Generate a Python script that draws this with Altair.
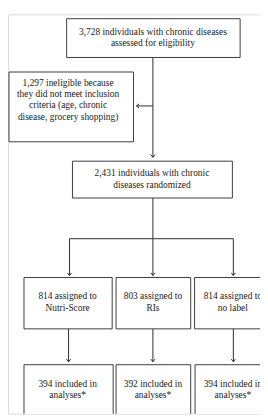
import altair as alt
import pandas as pd

# ---- content (text / counts) ----
top_text = ["3,728 individuals with chronic diseases", "assessed for eligibility"]
excl_text = ["1,297 ineligible because", "they did not meet inclusion",
             "criteria (age, chronic", "disease, grocery shopping)"]
rand_text = ["2,431 individuals with chronic", "diseases randomized"]
arm_labels = ["Nutri-Score", "RIs", "no label"]
arm_assigned = [814, 803, 814]
arm_analysed = [394, 392, 394]

# ---- layout (page pixel coordinates) ----
FONT = "'Liberation Serif', 'Times New Roman', Times, serif"
FS = 9.7
LH = 11.7

box_specs = [
    # x, x2, y, y2, text-center-x, first-line-y, lines
    (68, 247, 12, 52, 157.5, 26, top_text),
    (8.5, 137, 67, 139, 70, 78.5, excl_text),
    (74, 239, 159, 197, 156.5, 172, rand_text),
]
arm_x = [(24, 115, 69.5), (119, 196, 157.5), (200, 290, 240)]
for (x0, x1, cx), lab, n in zip(arm_x, arm_labels, arm_assigned):
    box_specs.append((x0, x1, 279, 332, cx, 299, [f"{n} assigned to", lab]))
arm_x2 = [(24, 116, 69.5), (119, 196, 157.5), (200.5, 290, 240)]
for (x0, x1, cx), n in zip(arm_x2, arm_analysed):
    box_specs.append((x0, x1, 369, 440, cx, 389, [f"{n} included in", "analyses*"]))

boxes = pd.DataFrame([dict(x=b[0] + .5, x2=b[1] + .5, y=b[2] + .5, y2=b[3] + .5) for b in box_specs])
lines = []
for b in box_specs:
    for i, t in enumerate(b[6]):
        lines.append(dict(x=b[4], y=b[5] + i * LH, t=t))
lines = pd.DataFrame(lines)

cols = [71, 157, 240]
cols2 = [70, 157, 240]
segs = [
    (157, 52, 157, 155),
    (157, 102, 140, 102),
    (157, 197, 157, 239),
    (71, 239, 240, 239),
] + [(c, 239, c, 277) for c in cols] + [(c, 332, c, 366) for c in cols2]
segs = pd.DataFrame([dict(x=s[0] + .5, y=s[1] + .5, x2=s[2] + .5, y2=s[3] + .5) for s in segs])

down_heads = pd.DataFrame([dict(x=157.5, y=155.5)] +
                          [dict(x=c + .5, y=277.5) for c in cols] +
                          [dict(x=c + .5, y=366.5) for c in cols2])
left_heads = pd.DataFrame([dict(x=140.5, y=102.5)])

W, H = 260, 412
xs = alt.Scale(domain=[8, 8 + W], nice=False, zero=False)
ys = alt.Scale(domain=[8, 8 + H], nice=False, zero=False, reverse=True)
X = lambda f: alt.X(f"{f}:Q", scale=xs, axis=None)
Y = lambda f: alt.Y(f"{f}:Q", scale=ys, axis=None)

rects = alt.Chart(boxes).mark_rect(fill="white", stroke="#3a3a3a", strokeWidth=1, clip=True).encode(
    x=X("x"), x2="x2", y=Y("y"), y2="y2")
rules = alt.Chart(segs).mark_rule(color="#2a2a2a", strokeWidth=1, clip=True).encode(
    x=X("x"), x2="x2", y=Y("y"), y2="y2")
dh = alt.Chart(down_heads).mark_point(
    shape="M-1,-1.3L0,0L1,-1.3", filled=False, size=18, color="#2a2a2a", strokeWidth=1, opacity=1, clip=True
).encode(x=X("x"), y=Y("y"))
lh = alt.Chart(left_heads).mark_point(
    shape="M1.3,-1L0,0L1.3,1", filled=False, size=18, color="#2a2a2a", strokeWidth=1, opacity=1, clip=True
).encode(x=X("x"), y=Y("y"))
txt = alt.Chart(lines).mark_text(font=FONT, fontSize=FS, color="#1a1a1a", baseline="middle",
                                 align="center", clip=True).encode(
    x=X("x"), y=Y("y"), text="t:N")

chart = alt.layer(rules, rects, dh, lh, txt).properties(
    width=W, height=H, padding=0, autosize=alt.AutoSizeParams(type="none")
).configure_view(stroke="transparent", strokeWidth=0, fill="white").configure(background="white")

chart.save("out.html", embed_options={"renderer": "svg", "actions": False})
